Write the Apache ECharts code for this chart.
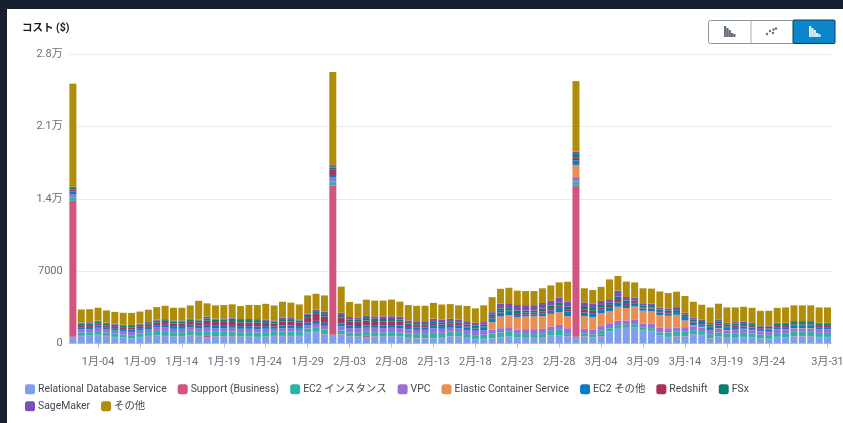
<!DOCTYPE html>
<html>
<head>
<meta charset="utf-8">
<script src="https://cdn.jsdelivr.net/npm/echarts@6/dist/echarts.min.js"></script>
<style>
html, body { margin: 0; padding: 0; background: #16202f; overflow: hidden; }
#panel { position: absolute; left: 7px; top: 9px; width: 836px; height: 414px; background: #fff; }
#main { position: absolute; left: 0; top: 0; width: 843px; height: 423px; }
</style>
</head>
<body>
<div id="panel"></div>
<div id="main"></div>
<script>
var categories = [
  '1月-01','1月-02','1月-03','1月-04','1月-05','1月-06','1月-07','1月-08','1月-09','1月-10','1月-11','1月-12','1月-13','1月-14','1月-15','1月-16',
  '1月-17','1月-18','1月-19','1月-20','1月-21','1月-22','1月-23','1月-24','1月-25','1月-26','1月-27','1月-28','1月-29','1月-30','1月-31',
  '2月-01','2月-02','2月-03','2月-04','2月-05','2月-06','2月-07','2月-08','2月-09','2月-10','2月-11','2月-12','2月-13','2月-14','2月-15',
  '2月-16','2月-17','2月-18','2月-19','2月-20','2月-21','2月-22','2月-23','2月-24','2月-25','2月-26','2月-27','2月-28','2月-29',
  '3月-01','3月-02','3月-03','3月-04','3月-05','3月-06','3月-07','3月-08','3月-09','3月-10','3月-11','3月-12','3月-13','3月-14','3月-15','3月-16',
  '3月-17','3月-18','3月-19','3月-20','3月-21','3月-22','3月-23','3月-24','3月-25','3月-26','3月-27','3月-28','3月-29','3月-30','3月-31'
];
var tickLabels = ['1月-04','1月-09','1月-14','1月-19','1月-24','1月-29','2月-03','2月-08','2月-13','2月-18','2月-23','2月-28','3月-04','3月-09','3月-14','3月-19','3月-24','3月-31'];

// 値はすべて画像からの読み取り
var rds = [650,710,740,810,710,610,550,450,610,710,740,710,650,680,780,710,610,680,680,680,650,650,610,650,710,710,710,710,1030,1100,870,
  840,870,680,650,610,680,650,680,650,520,480,480,480,520,680,650,520,420,420,480,580,650,550,520,520,520,740,740,680,
  650,680,580,680,1160,1390,1490,1520,1230,1200,740,610,680,680,870,810,480,650,520,520,610,580,480,420,610,580,680,680,680,610,610];
var support = [13150,30,30,30,30,30,30,30,30,30,30,30,30,30,30,30,130,30,30,30,30,30,30,30,30,30,30,30,30,30,30,
  14420,30,30,30,130,30,30,30,30,30,30,30,30,30,30,30,30,30,30,30,30,30,30,30,30,30,30,30,30,
  14660,30,30,160,30,30,30,30,30,30,30,30,30,30,30,30,30,30,30,30,30,30,30,30,30,30,30,30,30,30,30];
var ec2Instance = [350,320,320,360,320,320,290,320,320,360,450,450,420,390,420,390,390,420,420,450,420,420,420,420,390,420,420,390,390,450,450,
  390,360,360,360,390,390,390,390,390,420,420,420,520,480,450,420,360,360,390,480,450,450,360,360,360,390,450,550,290,
  350,290,290,390,290,360,290,320,260,260,290,420,420,420,390,360,390,390,390,390,390,360,360,360,360,390,420,420,420,390,390];
var vpc = [300,290,290,320,290,290,290,320,290,290,320,360,320,320,320,320,390,320,320,360,320,320,320,320,290,320,320,290,320,320,360,
  450,390,420,420,390,420,420,420,420,390,390,390,420,390,360,360,390,420,420,360,420,450,420,480,480,480,420,480,480,
  450,420,420,450,480,420,420,420,420,420,450,420,420,450,390,360,320,390,320,360,360,320,290,290,320,320,320,320,320,290,290];
var ecs = [0,0,0,0,0,0,0,0,0,0,0,0,0,0,0,0,0,0,0,0,0,0,0,0,0,0,0,0,0,0,0,
  0,0,0,0,0,0,0,0,0,0,0,0,0,0,0,0,0,0,0,710,1130,1160,1200,1230,1230,1230,1230,1230,1160,
  1160,1230,1230,1230,1160,1360,1200,1290,1230,1230,1230,1200,1230,650,100,60,30,30,30,30,30,30,30,30,30,30,30,30,30,30,30];
var ec2Other = [250,230,230,230,230,230,230,230,230,230,230,260,260,260,260,260,290,260,260,260,260,260,260,260,230,260,260,260,260,290,290,
  200,290,230,230,230,260,260,260,260,230,230,230,260,260,260,260,230,230,260,360,390,320,190,190,190,230,320,420,450,
  450,360,390,360,390,420,290,260,230,230,260,230,260,230,230,230,260,260,230,260,230,230,190,230,230,230,230,230,230,230,230];
var redshift = [200,190,190,190,160,190,190,190,190,190,260,260,260,260,290,320,390,360,390,390,360,360,390,320,290,390,390,360,520,680,610,
  500,580,420,420,480,390,390,360,360,190,160,160,190,160,160,160,130,130,130,160,160,130,190,190,190,230,230,230,230,
  300,260,230,230,230,230,190,160,100,100,130,130,130,130,130,130,130,160,130,130,130,130,100,100,130,130,130,130,130,130,130];
var fsx = [150,160,160,160,160,160,130,160,160,160,190,190,190,190,190,190,230,230,230,230,230,230,230,190,190,230,230,190,230,260,230,
  200,230,190,190,230,230,230,230,230,160,160,160,190,160,160,160,160,160,160,190,230,230,260,190,190,260,260,260,260,
  300,260,260,230,230,320,230,160,160,160,160,160,160,190,190,190,190,190,190,190,190,190,160,160,190,190,230,230,230,190,190];
var sagemaker = [100,100,100,100,100,100,100,100,100,100,100,100,100,100,100,100,160,100,100,130,100,100,100,100,100,130,100,100,130,160,260,
  250,230,230,190,260,230,260,260,260,290,290,290,320,320,290,260,260,260,260,260,480,480,520,520,520,550,450,520,480,
  240,450,450,390,320,580,360,260,230,230,190,190,190,190,160,160,160,230,160,160,160,130,130,130,100,100,100,100,100,100,100];
var other = [9980,1260,1260,1260,1200,1130,1160,1160,1160,1200,1200,1290,1230,1230,1290,1810,1290,1290,1290,1260,1260,1360,1360,1550,1450,1550,1490,1450,1740,1520,1550,
  9010,2520,1450,1360,1520,1520,1520,1620,1450,1490,1490,1490,1520,1450,1420,1390,1550,1390,1620,1450,1420,1490,1390,1360,1360,1420,1490,1450,1910,
  6820,1360,1290,1360,1910,1420,1490,1490,1450,1450,1550,1490,1490,1620,1550,1420,1490,1520,1490,1420,1420,1450,1390,1420,1450,1490,1520,1520,1520,1490,1490];

var seriesNames = ['Relational Database Service','Support (Business)','EC2 インスタンス','VPC','Elastic Container Service','EC2 その他','Redshift','FSx','SageMaker','その他'];
var seriesValues = [rds, support, ec2Instance, vpc, ecs, ec2Other, redshift, fsx, sagemaker, other];
var seriesColors = ['#7d9fee','#d1557f','#2fb3a6','#9a6fdc','#ea8f51','#0a7cc1','#a8325e','#05806f','#7b4fb8','#b08d08'];
var yTickValues = [0, 7000, 14000, 21000, 28000];

var fontName = 'Roboto, "Noto Sans CJK JP", sans-serif';

var myChart = echarts.init(document.getElementById('main'));

function isLabeled(index) {
  return tickLabels.indexOf(categories[index]) >= 0;
}

// 右上の切り替えボタン
function iconBars(x, y, color, list) {
  return list.map(function (b, i) {
    return { type: 'rect', shape: { x: x + i * 2.3, y: y - b, width: 2.3, height: b }, style: { fill: color } };
  });
}
var buttons = [
  { type: 'rect', shape: { x: 708.5, y: 20.5, width: 126, height: 23, r: 2 }, style: { fill: '#fff', stroke: '#8d969e', lineWidth: 1 } },
  { type: 'rect', shape: { x: 793, y: 20, width: 42, height: 23.5, r: 1 }, style: { fill: '#0a86ca', stroke: '#123a58', lineWidth: 1 } },
  { type: 'line', shape: { x1: 751, y1: 21, x2: 751, y2: 43 }, style: { stroke: '#a9b0b6', lineWidth: 1 } }
].concat(iconBars(724, 37, '#687078', [11, 9, 7, 4, 3]))
  .concat([[767, 34], [770, 31], [773, 33], [776, 28.5], [773.5, 29.5]].map(function (p) {
    return { type: 'circle', shape: { cx: p[0], cy: p[1], r: 1.2 }, style: { fill: '#687078' } };
  }))
  .concat(iconBars(809, 37, '#d8eefa', [11, 9, 7, 4, 3]));

var option = {
  animation: false,
  backgroundColor: 'transparent',
  textStyle: { fontFamily: fontName },
  title: {
    text: 'コスト ($)',
    left: 17,
    top: 18.5,
    textStyle: { fontSize: 10.5, fontWeight: 'bold', color: '#16191f', fontFamily: fontName }
  },
  grid: { left: 68.7, top: 54, width: 763, height: 289.5, outerBoundsMode: 'none' },
  legend: [
    {
      data: seriesNames.slice(0, 8),
      left: 20, top: 379, itemWidth: 10, itemHeight: 10, itemGap: 11,
      icon: 'roundRect',
      textStyle: { fontSize: 10.4, color: '#414750', padding: [0, 0, 0, -2], fontFamily: fontName }
    },
    {
      data: seriesNames.slice(8),
      left: 20, top: 396, itemWidth: 10, itemHeight: 10, itemGap: 11,
      icon: 'roundRect',
      textStyle: { fontSize: 10.4, color: '#414750', padding: [0, 0, 0, -2], fontFamily: fontName }
    }
  ],
  xAxis: {
    type: 'category',
    data: categories,
    axisLine: { lineStyle: { color: '#d5dbdb' } },
    axisTick: { show: true, alignWithLabel: true, interval: isLabeled, length: 4, lineStyle: { color: '#b8bfc5' } },
    axisLabel: {
      interval: isLabeled,
      hideOverlap: false,
      color: '#687078',
      fontSize: 11,
      margin: 13,
      fontFamily: fontName
    }
  },
  yAxis: {
    type: 'value',
    min: yTickValues[0],
    max: yTickValues[4],
    interval: yTickValues[1],
    axisLine: { show: false },
    axisTick: { show: false },
    splitLine: { lineStyle: { color: '#e9ebed' } },
    axisLabel: {
      color: '#687078',
      fontSize: 11,
      margin: 6,
      padding: [4, 0, 0, 0],
      fontFamily: fontName,
      formatter: function (v) { return v >= 10000 ? (v / 10000) + '万' : String(v); }
    }
  },
  series: seriesNames.map(function (name, i) {
    return {
      name: name,
      type: 'bar',
      stack: 'cost',
      barWidth: 7,
      data: seriesValues[i],
      itemStyle: { color: seriesColors[i] }
    };
  }),
  graphic: { elements: buttons }
};

myChart.setOption(option);
</script>
</body>
</html>
